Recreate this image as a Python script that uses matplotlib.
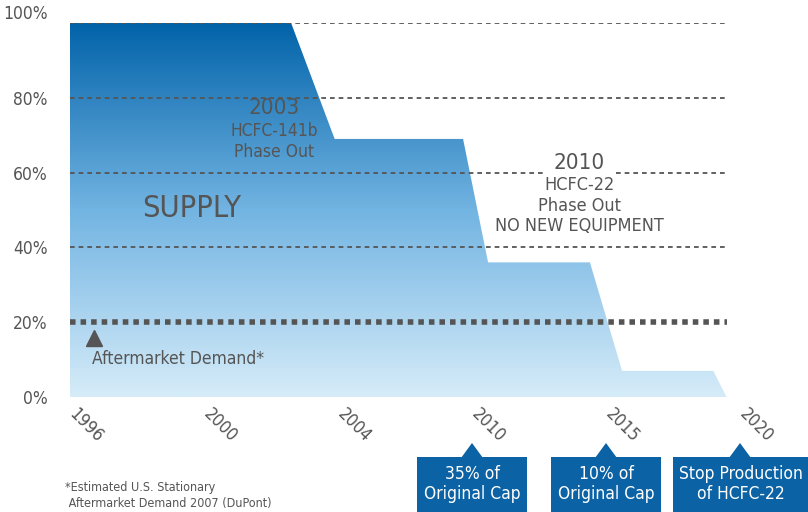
import numpy as np
import matplotlib
matplotlib.use("Agg")
import matplotlib.pyplot as plt
from matplotlib.colors import LinearSegmentedColormap
from matplotlib.patches import Polygon
from matplotlib.transforms import ScaledTranslation

plt.rcParams['font.family'] = ['DejaVu Sans']
plt.rcParams['font.stretch'] = 'condensed'

# tick years (drawn equally spaced)
tick_years = [1996, 2000, 2004, 2010, 2015, 2020]
y_ticks = [0, 20, 40, 60, 80, 100]
y_labels = ["0%", "20%", "40%", "60%", "80%", "100%"]

# supply outline (year, % of cap)
supply_years = [1996, 2002.6, 2003.9, 2009.6, 2010.6, 2014.4, 2015.6, 2019.0, 2019.5]
supply_pct = [100, 100, 69, 69, 36, 36, 7, 7, 0]

demand_pct = 20

box_years = [2010, 2015, 2020]
box_texts = ["35% of\nOriginal Cap", "10% of\nOriginal Cap", "Stop Production\nof HCFC-22"]

grey = "#555555"
blue = "#0b62a4"

idx = np.arange(len(tick_years))
fwd = lambda x: np.interp(x, tick_years, idx)
inv = lambda x: np.interp(x, idx, tick_years)

fig = plt.figure(figsize=(8.08, 5.12), dpi=100)
ax = fig.add_axes([70 / 808, 115 / 512, 670 / 808, 374 / 512])
ax.set_xscale('function', functions=(fwd, inv))

# gradient supply area
xs = supply_years + [1996]
ys = supply_pct + [0]
poly = Polygon(list(zip(xs, ys)), closed=True, facecolor='none', edgecolor='none',
               transform=ax.transData)
ax.add_patch(poly)
cmap = LinearSegmentedColormap.from_list("sup", ["#d6ecf9", "#72b4e2", "#0263a9"])
grad = np.linspace(0, 1, 256).reshape(-1, 1)
im = ax.imshow(grad, cmap=cmap, origin='lower', aspect='auto',
               extent=[0, 1, 0, 1], transform=ax.transAxes, zorder=1)
im.set_clip_path(poly)

# grid lines
ax.hlines([40, 60, 80, 100], 1996, 2019.5, color=grey, lw=1.3,
          linestyles=[(0, (2.6, 2.2))], zorder=2)
ax.hlines(demand_pct, 1996, 2019.5, color=grey, lw=4, linestyles=[(0, (1, 0.9))], zorder=2)

ax.plot([1996.72], [15.7], marker='^', ms=12, color=grey, zorder=3)
ax.text(1996.65, 10.2, "Aftermarket Demand*", color=grey, fontsize=12.5,
        ha='left', va='center', zorder=3)

ax.text(1999.64, 50.5, "SUPPLY", color=grey, fontsize=22, ha='center', va='center', zorder=3)

ax.text(2002.1, 77.3, "2003", color=grey, fontsize=16, ha='center', va='center', zorder=3)
ax.text(2002.1, 73.6, "HCFC-141b\nPhase Out", color=grey, fontsize=12.5, ha='center',
        va='top', linespacing=1.25, zorder=3)

ax.text(2014.0, 62.6, "2010", color=grey, fontsize=16, ha='center', va='center', zorder=3,
        bbox=dict(facecolor='white', edgecolor='none', pad=7))
ax.text(2014.0, 59.0, "HCFC-22\nPhase Out\nNO NEW EQUIPMENT", color=grey, fontsize=13,
        ha='center', va='top', linespacing=1.18, zorder=4)

ax.set_yticks(y_ticks)
ax.set_yticklabels(y_labels)
ax.set_xticks(tick_years)
ax.set_xticklabels([str(y) for y in tick_years])
ax.set_xlim(1996, 2020)
ax.set_ylim(0, 100)
ax.tick_params(axis='both', length=0, colors=grey, labelsize=12.5)
ax.tick_params(axis='y', pad=16)
ax.tick_params(axis='x', pad=6)
shift = ScaledTranslation(6 / 72, 0, fig.dpi_scale_trans)
for lab in ax.get_xticklabels():
    lab.set_rotation(-45)
    lab.set_ha('left')
    lab.set_va('top')
    lab.set_rotation_mode('anchor')
    lab.set_transform(lab.get_transform() + shift)
for lab in ax.get_yticklabels():
    lab.set_ha('right')
ax.get_yticklabels()[-1].set_va('bottom')
for s in ax.spines.values():
    s.set_visible(False)

# blue callout boxes under the axis
for yr, txt in zip(box_years, box_texts):
    xf = ax.transData.transform((yr, 0))[0] / 808
    w = 110 / 808 if yr != 2020 else 135 / 808
    x0 = xf - w / 2 if yr != 2020 else 673 / 808
    fig.patches.append(plt.Rectangle((x0, 0), w, 55 / 512, transform=fig.transFigure,
                                     facecolor=blue, edgecolor='none'))
    fig.patches.append(Polygon([(xf - 11 / 808, 54 / 512), (xf + 11 / 808, 54 / 512),
                                (xf, 69 / 512)], closed=True, transform=fig.transFigure,
                               facecolor=blue, edgecolor='none'))
    fig.text(x0 + w / 2, 28 / 512, txt, color='white', fontsize=12.5, ha='center',
             va='center', linespacing=1.15)

fig.text(65 / 808, 17 / 512, "*Estimated U.S. Stationary\n Aftermarket Demand 2007 (DuPont)",
         color=grey, fontsize=9, ha='left', va='center', linespacing=1.3)

fig.savefig("out.png", dpi=100)
